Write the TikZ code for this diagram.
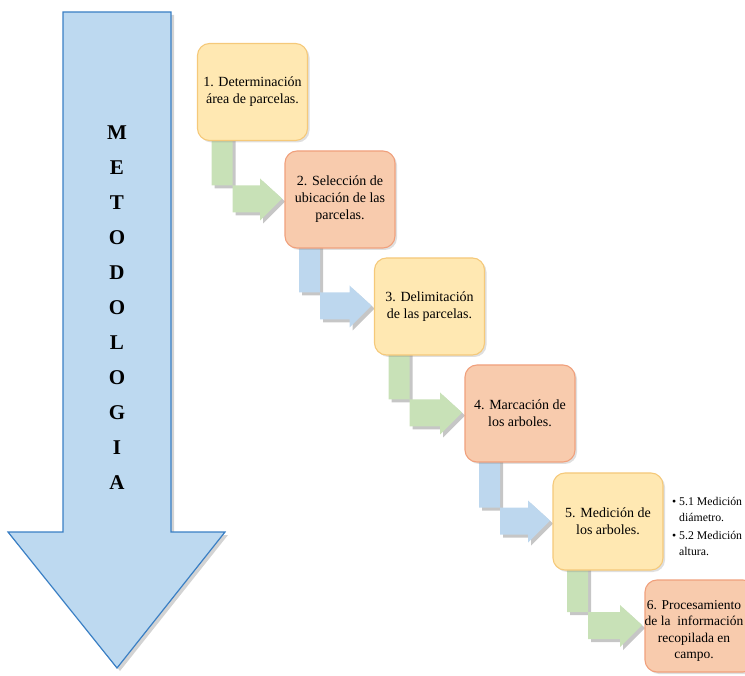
\documentclass[tikz,border=0pt]{standalone}
\usepackage{fontspec}
\setmainfont{Liberation Serif}
\usetikzlibrary{shadows,calc}
\definecolor{yfill}{HTML}{FFE8B2}
\definecolor{ydraw}{HTML}{F5C97A}
\definecolor{sfill}{HTML}{F8CBAD}
\definecolor{sdraw}{HTML}{F0A07C}
\definecolor{garrow}{HTML}{C8E1B7}
\definecolor{barrow}{HTML}{BDD7EE}
\definecolor{bigfill}{HTML}{BDD9F0}
\definecolor{bigdraw}{HTML}{3A7FC4}
\tikzset{
  stepbox/.style={rounded corners=12pt, minimum width=110pt, minimum height=97pt,
    align=center, inner sep=2pt, line width=1.1pt,
    font=\fontsize{14}{17}\selectfont,
    drop shadow={opacity=0.25, shadow xshift=2pt, shadow yshift=-2pt}},
  ybox/.style={stepbox, fill=yfill, draw=ydraw},
  sbox/.style={stepbox, fill=sfill, draw=sdraw},
  bentarrow/.style={draw=none,
    drop shadow={opacity=0.45, shadow xshift=3pt, shadow yshift=-3pt}},
  bigletter/.style={font=\fontsize{21}{21}\selectfont\bfseries, inner sep=0pt},
  boxtext/.style={align=center, inner sep=0pt, font=\fontsize{13.5}{16.5}\selectfont},
}
\begin{document}
\begin{tikzpicture}[x=1pt,y=-1pt]
\useasboundingbox (0,0) rectangle (745,676);
\clip (0,0) rectangle (745,676);
% big arrow
\path[fill=bigfill, draw=bigdraw, line width=1.2pt,
  drop shadow={opacity=0.35, shadow xshift=3pt, shadow yshift=-3pt}]
  (63,12) -- (171,12) -- (171,532) -- (225,532) -- (117,668) -- (8,532) -- (63,532) -- cycle;
\foreach \l [count=\i from 0] in {M,E,T,O,D,O,L,O,G,I,A}
  \node[bigletter] (L\i) at (117,133+35*\i) {\l};
% step box centres
\path
  coordinate (c1) at (252.5,92)
  coordinate (c2) at (340,199.5)
  coordinate (c3) at (429.5,306.5)
  coordinate (c4) at (520,413.5)
  coordinate (c5) at (608,521.5)
  coordinate (c6) at (700,626);
% bent arrows
\foreach \a/\b/\col in {1/2/garrow,2/3/barrow,3/4/garrow,4/5/barrow,5/6/garrow}{
  \path ($(c\a)+(-55,0)$) coordinate (bl\a);
  \path ($(c\b)+(-55,0)$) coordinate (bl\b);
  \path[bentarrow, fill=\col]
    let \p1=(bl\a), \p2=(bl\b) in
    (\x1+14,\y1+30) -- (\x1+35,\y1+30) -- (\x1+35,\y2-13) -- (\x2-25,\y2-13)
    -- (\x2-25,\y2-21) -- (\x2-3,\y2+1) -- (\x2-25,\y2+21) -- (\x2-25,\y2+14)
    -- (\x1+14,\y2+14) -- cycle;
}
\node[ybox] (b1) at (c1) {1. Determinación\\área de parcelas.};
\node[sbox] (b2) at ($(c2)+(0,0)$) {2. Selección de\\ubicación de las\\parcelas.};
\node[ybox] (b3) at (c3) {3. Delimitación\\de las parcelas.};
\node[sbox] (b4) at (c4) {4. Marcación de\\los arboles.};
\node[ybox] (b5) at (c5) {5. Medición de\\los arboles.};
\node[sbox, minimum height=92pt] (b6) at (c6) {};
\node[boxtext] (t6) at ($(c6)+(-6,5)$) {6. Procesamiento\\de la\ \ información\\recopilada en\\campo.};
\node[anchor=north west, align=left, inner sep=0pt,
  font=\fontsize{11.8}{16}\selectfont] (sub) at (672,497)
  {\makebox[7pt][l]{\textbullet}5.1 Medición\\\hspace*{7pt}diámetro.\\[2pt]
   \makebox[7pt][l]{\textbullet}5.2 Medición\\\hspace*{7pt}altura.};
\end{tikzpicture}
\end{document}
